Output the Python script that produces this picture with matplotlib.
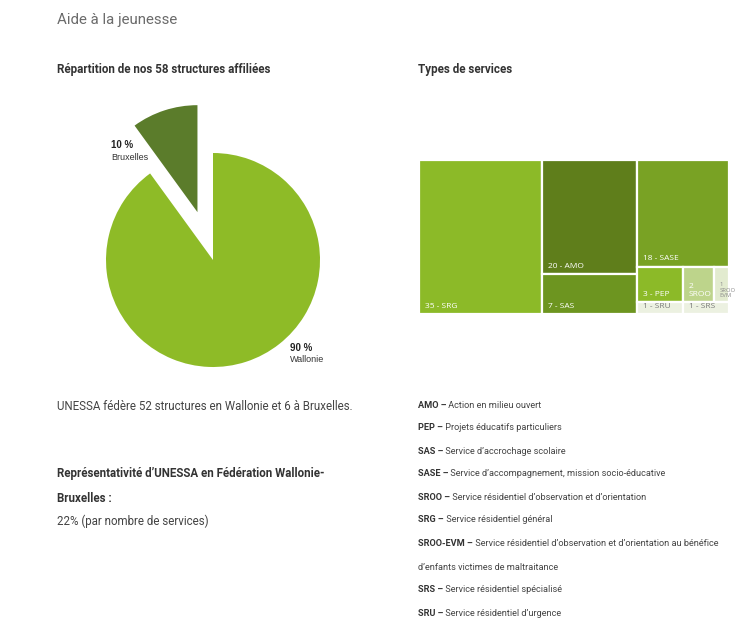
import matplotlib.pyplot as plt
from matplotlib.patches import Rectangle

# pie data
regions = ['Bruxelles', 'Wallonie']
region_pct = [10, 90]

# treemap data
services = ['SRG', 'AMO', 'SAS', 'SASE', 'PEP', 'SROO', 'SROO-EVM', 'SRU', 'SRS']
counts = [35, 20, 7, 18, 3, 2, 1, 1, 1]
tile_labels = ['35 - SRG', '20 - AMO', '7 - SAS', '18 - SASE', '3 - PEP',
               '2\nSROO', '1\nSROO\nEVM', '1 - SRU', '1 - SRS']

# glossary
abbr = ['AMO', 'PEP', 'SAS', 'SASE', 'SROO', 'SRG', 'SROO-EVM', '', 'SRS', 'SRU']
descr = ['Action en milieu ouvert',
         'Projets éducatifs particuliers',
         'Service d’accrochage scolaire',
         'Service d’accompagnement, mission socio-éducative',
         'Service résidentiel d’observation et d’orientation',
         'Service résidentiel général',
         'Service résidentiel d’observation et d’orientation au bénéfice',
         'd’enfants victimes de maltraitance',
         'Service résidentiel spécialisé',
         'Service résidentiel d’urgence']

W, H = 750, 630
fig = plt.figure(figsize=(7.5, 6.3), dpi=100)
fig.patch.set_facecolor('white')

def fx(px):
    return px / W

def fy(py):
    return 1 - py / H

body = ['Roboto', 'DejaVu Sans']

# headings
fig.text(fx(57), fy(20), 'Aide à la jeunesse', fontsize=10.8, color='#6b6b6b',
         family=body, va='center')
fig.text(fx(57), fy(70), 'Répartition de nos 58 structures affiliées', fontsize=8.4,
         fontweight='bold', color='#333333', family=body, va='center')
fig.text(fx(418), fy(70), 'Types de services', fontsize=8.4,
         fontweight='bold', color='#333333', family=body, va='center')

# pie chart
ax_pie = fig.add_axes([fx(93), fy(375), 240 / W, 280 / H])
ax_pie.pie(region_pct, colors=['#5b7c2b', '#8ebb27'], explode=[0.47, 0],
           startangle=90, counterclock=True, radius=1)
ax_pie.set_xlim(-120 / 107, 120 / 107)
ax_pie.set_ylim(-115 / 107, 165 / 107)
ax_pie.set_aspect('auto')
ax_pie.axis('off')

pie_font = ['Liberation Sans', 'DejaVu Sans']
fig.text(fx(111), fy(145), f'{region_pct[0]} %', fontsize=7, fontweight='bold',
         color='#222222', family=pie_font, va='center')
fig.text(fx(111), fy(157), regions[0], fontsize=6.5, color='#333333',
         family=pie_font, va='center')
fig.text(fx(290), fy(348), f'{region_pct[1]} %', fontsize=7, fontweight='bold',
         color='#222222', family=pie_font, va='center')
fig.text(fx(290), fy(359), regions[1], fontsize=6.5, color='#333333',
         family=pie_font, va='center')

# treemap: three columns, widths proportional to their totals
ax_tm = fig.add_axes([fx(419), fy(314), 310 / W, 154 / H])
total = sum(counts)
ax_tm.set_xlim(0, total)
ax_tm.set_ylim(0, 1)
ax_tm.axis('off')

c = dict(zip(services, counts))
rects = {}
x0 = 0
# column 1
rects['SRG'] = (x0, 0, c['SRG'], 1)
x0 += c['SRG']
# column 2: AMO over SAS
col2 = c['AMO'] + c['SAS']
rects['SAS'] = (x0, 0, col2, c['SAS'] / col2)
rects['AMO'] = (x0, c['SAS'] / col2, col2, c['AMO'] / col2)
x0 += col2
# column 3: SASE over a small block
col3 = total - x0
small = col3 - c['SASE']
hs = small / col3
rects['SASE'] = (x0, hs, col3, 1 - hs)
top_row = ['PEP', 'SROO', 'SROO-EVM']
bot_row = ['SRU', 'SRS']
top_sum = sum(c[s] for s in top_row)
bot_sum = sum(c[s] for s in bot_row)
hb = hs * bot_sum / small
xx = x0
for s in top_row:
    w = col3 * c[s] / top_sum
    rects[s] = (xx, hb, w, hs - hb)
    xx += w
xx = x0
for s in bot_row:
    w = col3 * c[s] / bot_sum
    rects[s] = (xx, 0, w, hb)
    xx += w

tile_colors = {'SRG': '#8cba28', 'AMO': '#5f7e1b', 'SAS': '#6d9520', 'SASE': '#79a224',
               'PEP': '#8cba28', 'SROO': '#bdd48b', 'SROO-EVM': '#e2ebcf',
               'SRU': '#ecf1e1', 'SRS': '#ecf1e1'}
tile_text = {'SROO-EVM': '#8a8a8a', 'SRU': '#7a7a7a', 'SRS': '#7a7a7a'}
tile_font = ['Open Sans', 'DejaVu Sans']

for s, lab in zip(services, tile_labels):
    x, y, w, h = rects[s]
    ax_tm.add_patch(Rectangle((x, y), w, h, facecolor=tile_colors[s],
                              edgecolor='white', linewidth=1.6))
    fs = 4.2 if s == 'SROO-EVM' else 6
    ax_tm.annotate(lab, xy=(x, y), xytext=(4, 3), textcoords='offset points',
                   fontsize=fs, color=tile_text.get(s, 'white'), family=tile_font,
                   va='bottom', ha='left', linespacing=1.1)

# left text block
fig.text(fx(57), fy(406), 'UNESSA fédère 52 structures en Wallonie et 6 à Bruxelles.',
         fontsize=8.3, color='#444444', family=body, va='center')
fig.text(fx(57), fy(474), 'Représentativité d’UNESSA en Fédération Wallonie-',
         fontsize=8.3, fontweight='bold', color='#333333', family=body, va='center')
fig.text(fx(57), fy(498), 'Bruxelles :', fontsize=8.3, fontweight='bold',
         color='#333333', family=body, va='center')
fig.text(fx(57), fy(521), '22% (par nombre de services)', fontsize=8.3,
         color='#444444', family=body, va='center')

# glossary: bold abbreviation, then the description right after it
line_y = [405, 428, 451, 474, 497, 520, 544, 567, 590, 613]
for a, d, py in zip(abbr, descr, line_y):
    if a:
        head = fig.text(fx(418), fy(py), a + ' –', fontsize=6.6, fontweight='bold',
                        color='#333333', family=body, va='center')
        fig.add_artist(plt.Annotation(' ' + d, xy=(1, 0.5), xycoords=head,
                                      fontsize=6.6, color='#444444', family=body,
                                      va='center', ha='left', annotation_clip=False))
    else:
        fig.text(fx(418), fy(py), d, fontsize=6.6, color='#444444',
                 family=body, va='center')

fig.savefig('out.png', dpi=100, facecolor='white')
